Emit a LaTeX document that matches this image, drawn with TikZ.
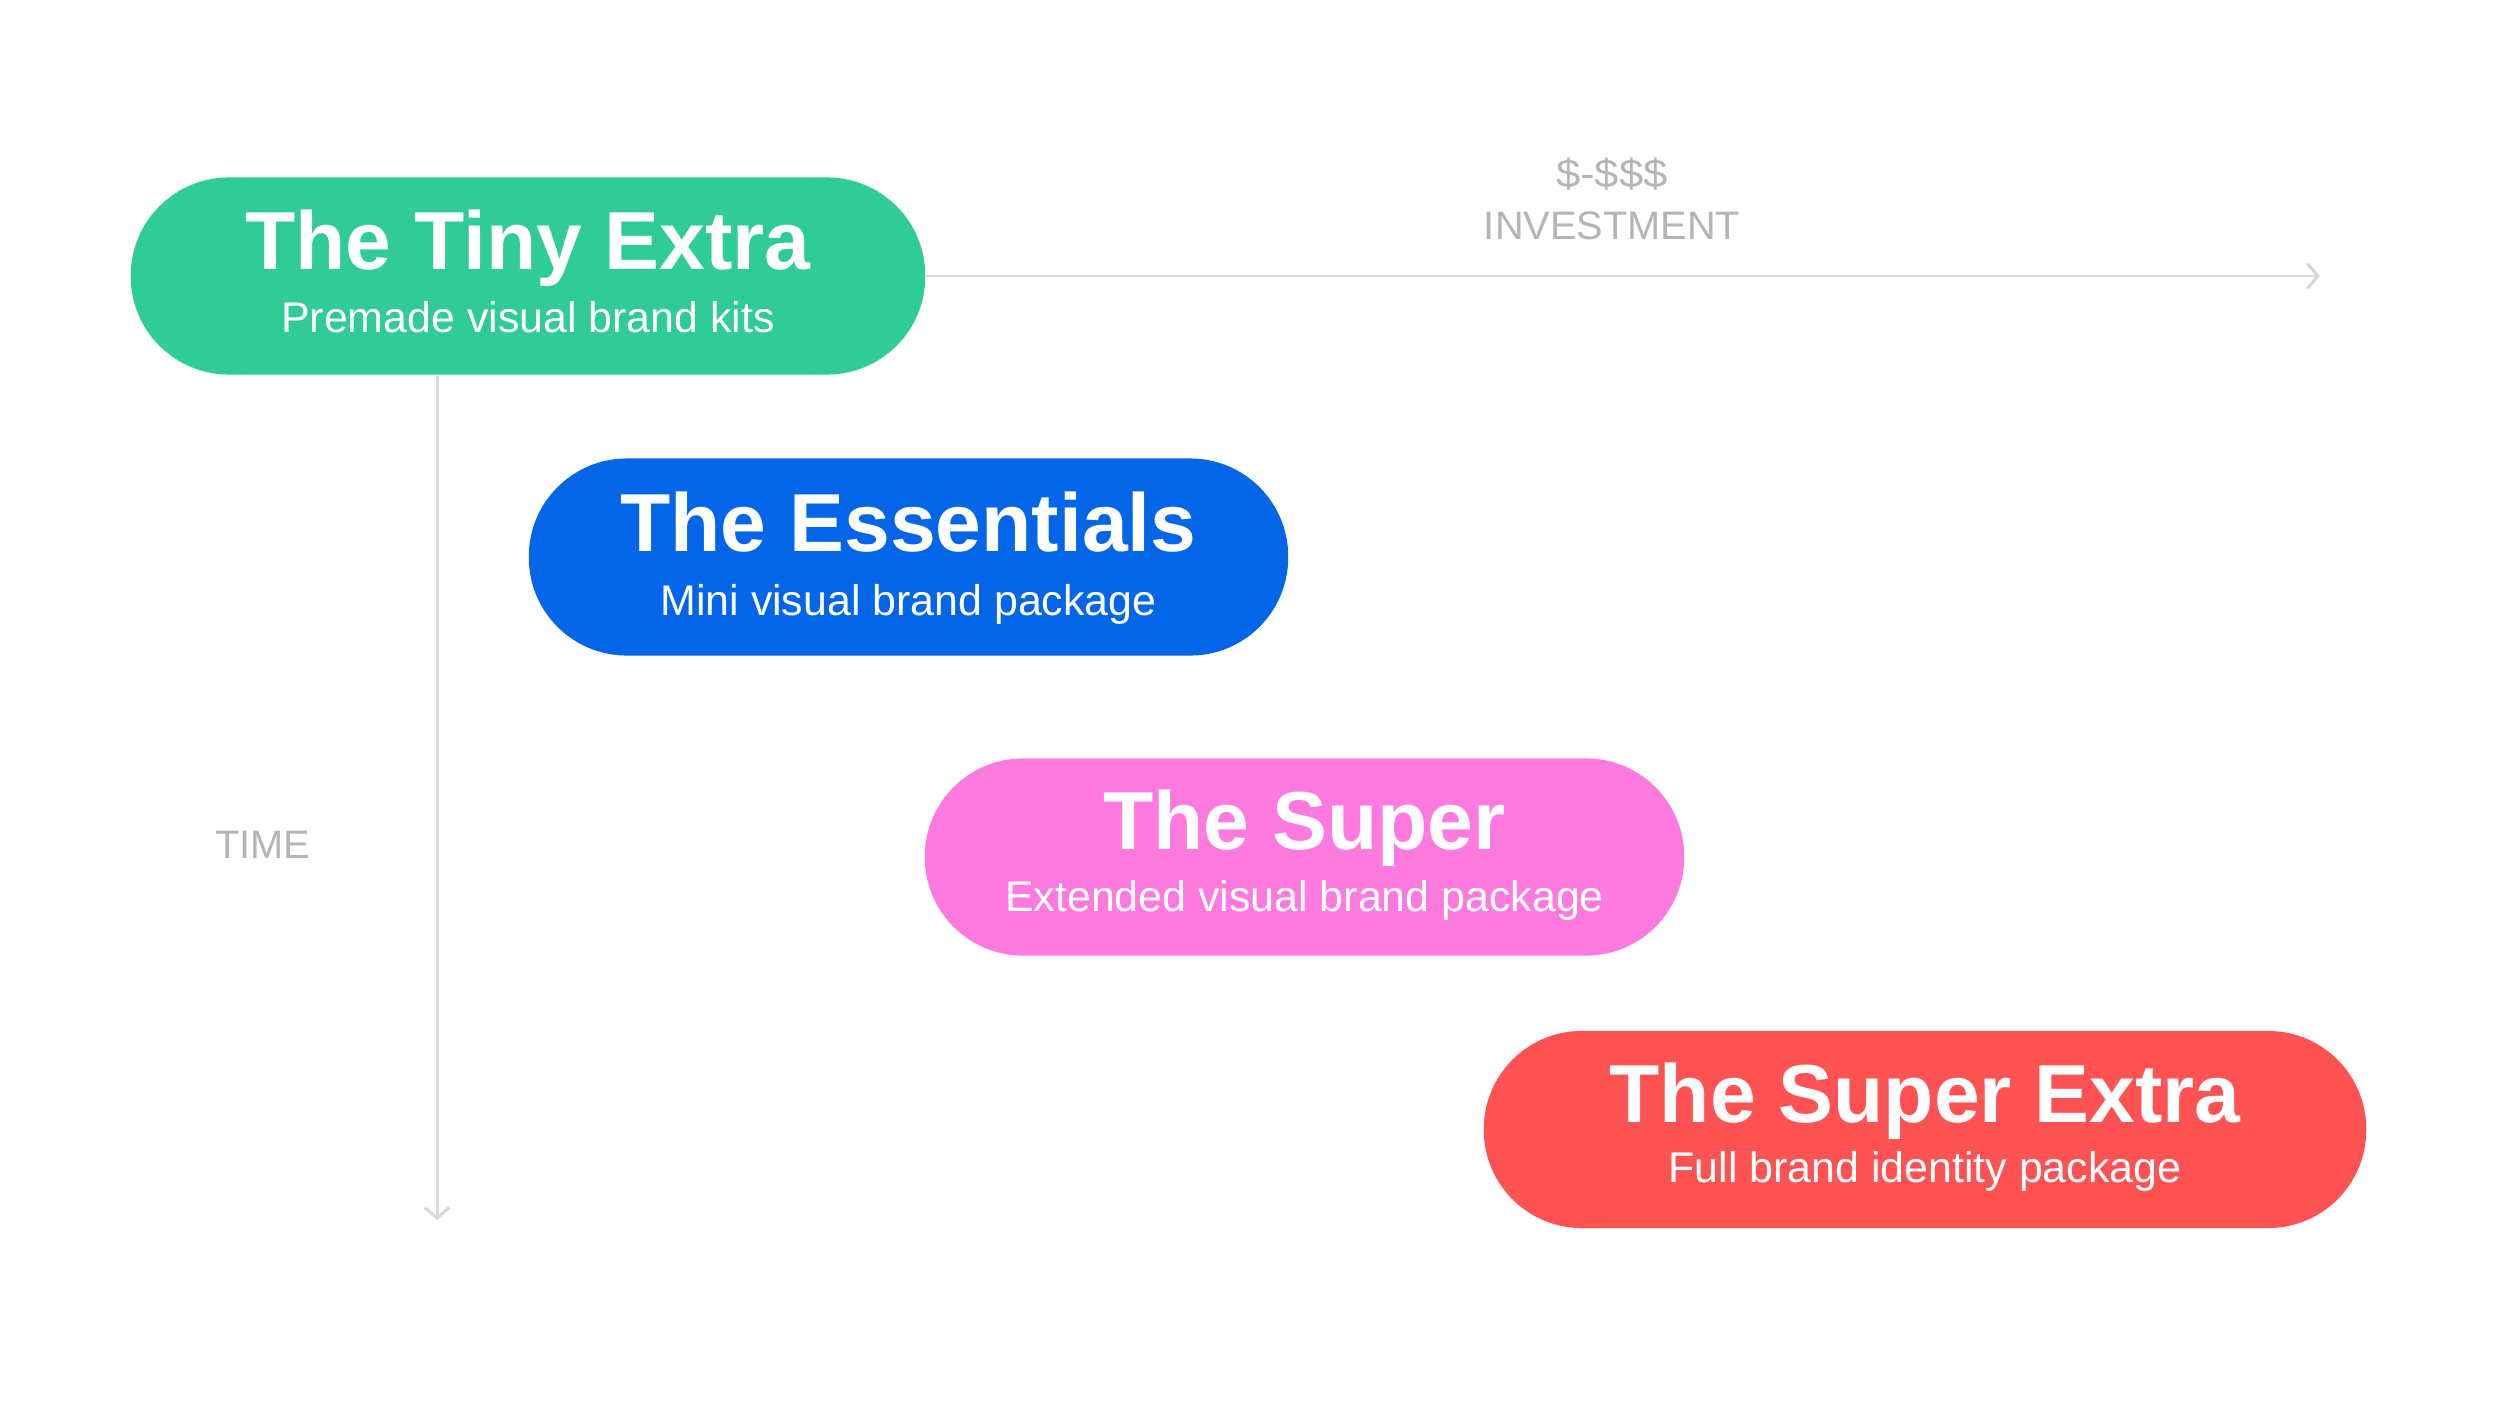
\documentclass[tikz,border=0pt]{standalone}
\usepackage{fontspec}
\setmainfont{Liberation Sans}
\usetikzlibrary{arrows.meta,calc}
\definecolor{tinygreen}{HTML}{2FCC97}
\definecolor{essblue}{HTML}{0366E8}
\definecolor{superpink}{HTML}{FF7ADF}
\definecolor{extrared}{HTML}{FF5252}
\definecolor{axisgray}{HTML}{D8D8D8}
\definecolor{labelgray}{HTML}{B5B5B5}
\tikzset{
  pill/.style={draw=none, rectangle, rounded corners=0.98cm, minimum height=1.97cm, inner sep=0pt},
  ptitle/.style={text=white, font=\fontsize{23.4}{28}\selectfont\bfseries, anchor=base, inner sep=0pt},
  psub/.style={text=white, font=\fontsize{12.2}{15}\selectfont, anchor=base, inner sep=0pt},
  axislabel/.style={text=labelgray, font=\fontsize{11.3}{14}\selectfont, anchor=base, inner sep=0pt},
  axisline/.style={draw=axisgray, line width=0.85pt, -{Straight Barb[length=3pt,width=7pt,line width=0.85pt]}}
}
\begin{document}
\begin{tikzpicture}[x=0.01cm, y=-0.01cm]
\useasboundingbox (0,0) rectangle (2500,1406);
\fill[white] (0,0) rectangle (2500,1406);

% axes
\coordinate (xend) at (2320,276);
\coordinate (ystart) at (437,376);
\coordinate (yend) at (437,1220);

% pills
\node[pill, fill=tinygreen, minimum width=7.94cm] (tiny) at (528,276) {};
\node[pill, fill=essblue, minimum width=7.59cm] (ess) at (908.5,557) {};
\node[pill, fill=superpink, minimum width=7.59cm] (super) at (1304.5,857) {};
\node[pill, fill=extrared, minimum width=8.82cm] (extra) at (1925,1129.5) {};

\draw[axisline] (tiny.east) -- (xend);
\draw[axisline] (ystart) -- (yend);

% titles
\node[ptitle] (tinyT) at ($(tiny.center)+(0,-7)$) {The Tiny Extra};
\node[psub] (tinyS) at ($(tiny.center)+(0,56)$) {Premade visual brand kits};
\node[ptitle] (essT) at ($(ess.center)+(0,-6)$) {The Essentials};
\node[psub] (essS) at ($(ess.center)+(0,58)$) {Mini visual brand package};
\node[ptitle] (superT) at ($(super.center)+(0,-8)$) {The Super};
\node[psub] (superS) at ($(super.center)+(0,54)$) {Extended visual brand package};
\node[ptitle] (extraT) at ($(extra.center)+(0,-7)$) {The Super Extra};
\node[psub] (extraS) at ($(extra.center)+(0,53)$) {Full brand identity package};

% axis labels
\node[axislabel, xscale=1.1] (price) at (1612,187) {\$-\$\$\$};
\node[axislabel] (inv) at (1612,239) {INVESTMENT};
\node[axislabel] (time) at (263,858) {TIME};
\end{tikzpicture}
\end{document}
